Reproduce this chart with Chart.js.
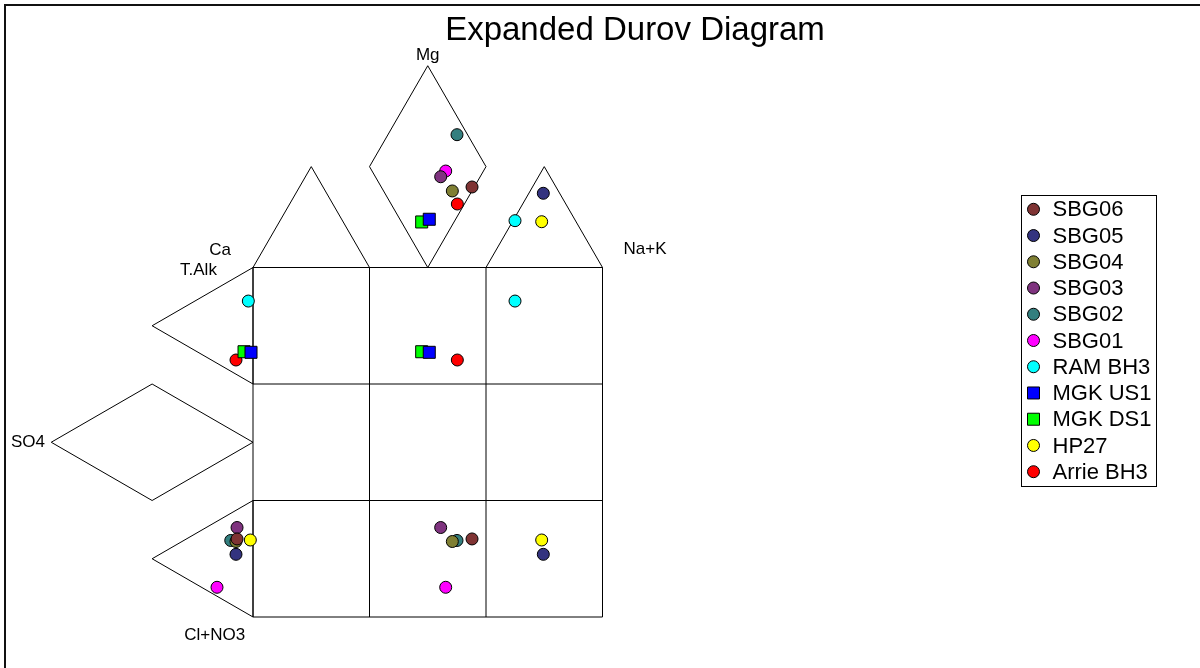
<!DOCTYPE html>
<html>
<head>
<meta charset="utf-8">
<title>Expanded Durov Diagram</title>
<script src="https://cdn.jsdelivr.net/npm/chart.js@4.4.1/dist/chart.umd.min.js"></script>
<style>
  html, body { margin: 0; padding: 0; background: #fff; }
  canvas { display: block; }
</style>
</head>
<body>
<canvas id="chart" width="1200" height="668"></canvas>
<script>
// Samples, in legend order
const samples = ['SBG06', 'SBG05', 'SBG04', 'SBG03', 'SBG02', 'SBG01', 'RAM BH3', 'MGK US1', 'MGK DS1', 'HP27', 'Arrie BH3'];
const colours = ['#7f3333', '#33337f', '#7f7f33', '#7f337f', '#337f7f', '#ff00ff', '#00ffff', '#0000ff', '#00ff00', '#ffff00', '#ff0000'];
const markers = ['circle', 'circle', 'circle', 'circle', 'circle', 'circle', 'circle', 'rect', 'rect', 'circle', 'circle'];

// Cation field position (Ca / Mg / Na+K fields on top), diagram units (grid cell = 100)
const cationX = [188.0, 249.2, 171.1, 161.1, 175.1, 165.4, 224.9, 151.3, 144.8, 247.8, 175.4];
const cationY = [369.1, 363.7, 365.7, 377.9, 414.0, 382.8, 340.2, 341.4, 339.1, 339.3, 354.5];
// Anion field position (T.Alk / SO4 / Cl+NO3 fields on the left)
const anionX = [-13.7, -14.6, -14.6, -13.7, -19.1, -30.9, -4.0, -1.7, -7.7, -2.3, -14.6];
const anionY = [67.0, 53.8, 64.8, 76.8, 65.7, 25.5, 271.2, 227.2, 227.7, 66.1, 220.6];

// Field labels
const fieldLabels = ['Mg', 'Ca', 'T.Alk', 'Na+K', 'SO4', 'Cl+NO3'];
const fieldLabelX = [150, -28.3, -46.8, 336.5, -193.1, -32.9];
const fieldLabelY = [482.4, 314.6, 297.4, 315.6, 149.8, -15.5];

const H = 86.6; // height of a triangle with side 100

// outline of the fields
const outlines = [
  [[0, 300], [50, 300 + H], [100, 300], [0, 300]],                              // Ca
  [[150, 300], [100, 300 + H], [150, 300 + 2 * H], [200, 300 + H], [150, 300]],  // Mg
  [[200, 300], [250, 300 + H], [300, 300], [200, 300]],                          // Na+K
  [[0, 300], [-H, 250], [0, 200], [0, 300]],                                     // T.Alk
  [[0, 150], [-H, 200], [-2 * H, 150], [-H, 100], [0, 150]],                     // SO4
  [[0, 100], [-H, 50], [0, 0], [0, 100]],                                        // Cl+NO3
];
for (let i = 0; i <= 3; i++) {
  outlines.push([[i * 100, 0], [i * 100, 300]]);
  outlines.push([[0, i * 100], [300, i * 100]]);
}

// px per diagram unit, and where the grid origin sits on the canvas
const unit = 1.165;
const originX = 253;
const originY = 617;

const sampleSets = samples.map((name, i) => ({
  label: name,
  data: [
    { x: cationX[i], y: cationY[i] },
    { x: anionX[i], y: anionY[i] },
    { x: cationX[i], y: anionY[i] },   // projection into the central grid
  ],
  pointStyle: markers[i],
  pointRadius: markers[i] === 'rect' ? 8.5 : 6,
  backgroundColor: colours[i],
  borderColor: '#000',
  borderWidth: 1,
  showLine: false,
}));

const outlineSets = outlines.map(pts => ({
  label: '',
  data: pts.map(p => ({ x: p[0], y: p[1] })),
  showLine: true,
  pointRadius: 0,
  borderColor: '#000',
  borderWidth: 1,
  fill: false,
  tension: 0,
}));

const FONT = '"Liberation Sans", Arial, sans-serif';

const decorations = {
  id: 'decorations',
  afterDraw(chart) {
    const ctx = chart.ctx;
    const xs = chart.scales.x, ys = chart.scales.y;
    ctx.save();

    // panel frame
    ctx.strokeStyle = '#111';
    ctx.lineWidth = 2;
    ctx.beginPath();
    ctx.moveTo(5, 668);
    ctx.lineTo(5, 5);
    ctx.lineTo(1200, 5);
    ctx.stroke();

    // title
    ctx.fillStyle = '#000';
    ctx.textAlign = 'center';
    ctx.textBaseline = 'middle';
    ctx.font = '33px ' + FONT;
    ctx.fillText('Expanded Durov Diagram', 635, 31);

    // field labels
    ctx.font = '17px ' + FONT;
    fieldLabels.forEach((t, i) => {
      ctx.fillText(t, xs.getPixelForValue(fieldLabelX[i]), ys.getPixelForValue(fieldLabelY[i]));
    });

    // legend
    const lx = 1021.5, ly = 195.5, lw = 135, lh = 291, step = 26.24;
    ctx.lineWidth = 1;
    ctx.strokeStyle = '#000';
    ctx.strokeRect(lx, ly, lw, lh);
    ctx.textAlign = 'left';
    ctx.font = '22px ' + FONT;
    samples.forEach((name, i) => {
      const cy = 209.3 + i * step;
      const cx = 1033.5;
      ctx.fillStyle = colours[i];
      ctx.beginPath();
      if (markers[i] === 'rect') {
        ctx.rect(cx - 6, cy - 6, 12, 12);
      } else {
        ctx.arc(cx, cy, 6, 0, Math.PI * 2);
      }
      ctx.fill();
      ctx.stroke();
      ctx.fillStyle = '#000';
      ctx.fillText(name, 1052.5, cy + 1);
    });
    ctx.restore();
  }
};

new Chart(document.getElementById('chart'), {
  type: 'scatter',
  data: { datasets: [...sampleSets, ...outlineSets] },
  options: {
    responsive: false,
    animation: false,
    devicePixelRatio: 1,
    events: [],
    layout: { padding: 0, autoPadding: false },
    plugins: { legend: { display: false }, tooltip: { enabled: false }, title: { display: false } },
    elements: { line: { borderJoinStyle: 'miter' } },
    clip: false,
    scales: {
      x: { type: 'linear', display: false, min: -originX / unit, max: (1200 - originX) / unit },
      y: { type: 'linear', display: false, min: (originY - 668) / unit, max: originY / unit },
    },
  },
  plugins: [decorations],
});
</script>
</body>
</html>
